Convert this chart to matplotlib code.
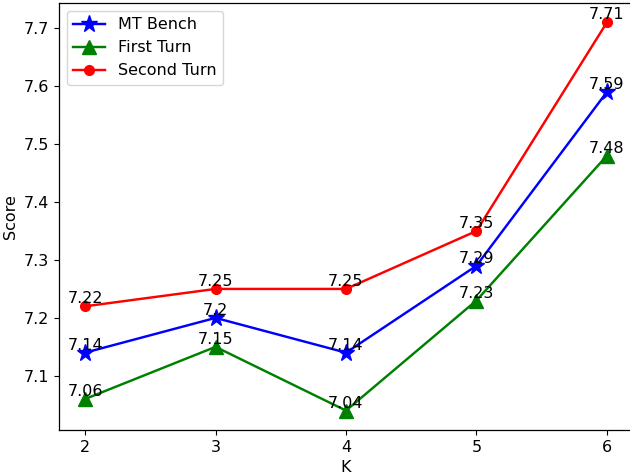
import matplotlib
matplotlib.use("Agg")
import matplotlib.pyplot as plt

# значения K и оценки
k_values = [2, 3, 4, 5, 6]
mt_bench = [7.14, 7.2, 7.14, 7.29, 7.59]
first_turn = [7.06, 7.15, 7.04, 7.23, 7.48]
second_turn = [7.22, 7.25, 7.25, 7.35, 7.71]

plt.rcParams["font.size"] = 11.5

fig, ax = plt.subplots(figsize=(6.3, 4.75), dpi=100)

lw = 1.75
ax.plot(k_values, mt_bench, color="blue", marker="*", markersize=12.5, linewidth=lw, label="MT Bench")
ax.plot(k_values, first_turn, color="green", marker="^", markersize=10.5, linewidth=lw, label="First Turn")
ax.plot(k_values, second_turn, color="red", marker="o", markersize=7, linewidth=lw, label="Second Turn")

# подписи значений над точками
for series in (mt_bench, first_turn, second_turn):
    for x, y in zip(k_values, series):
        ax.text(x, y, str(y), ha="center", va="bottom", fontsize=11.5)

ax.set_xticks(k_values)
ax.set_xlabel("K")
ax.set_ylabel("Score")
ax.legend(loc="upper left")
for s in ax.spines.values():
    s.set_linewidth(0.9)

# правая граница чуть за краем картинки, как в исходнике
fig.subplots_adjust(left=59 / 630, right=633 / 630, top=1 - 3 / 475, bottom=1 - 430 / 475)
fig.savefig("out.png", dpi=100)
